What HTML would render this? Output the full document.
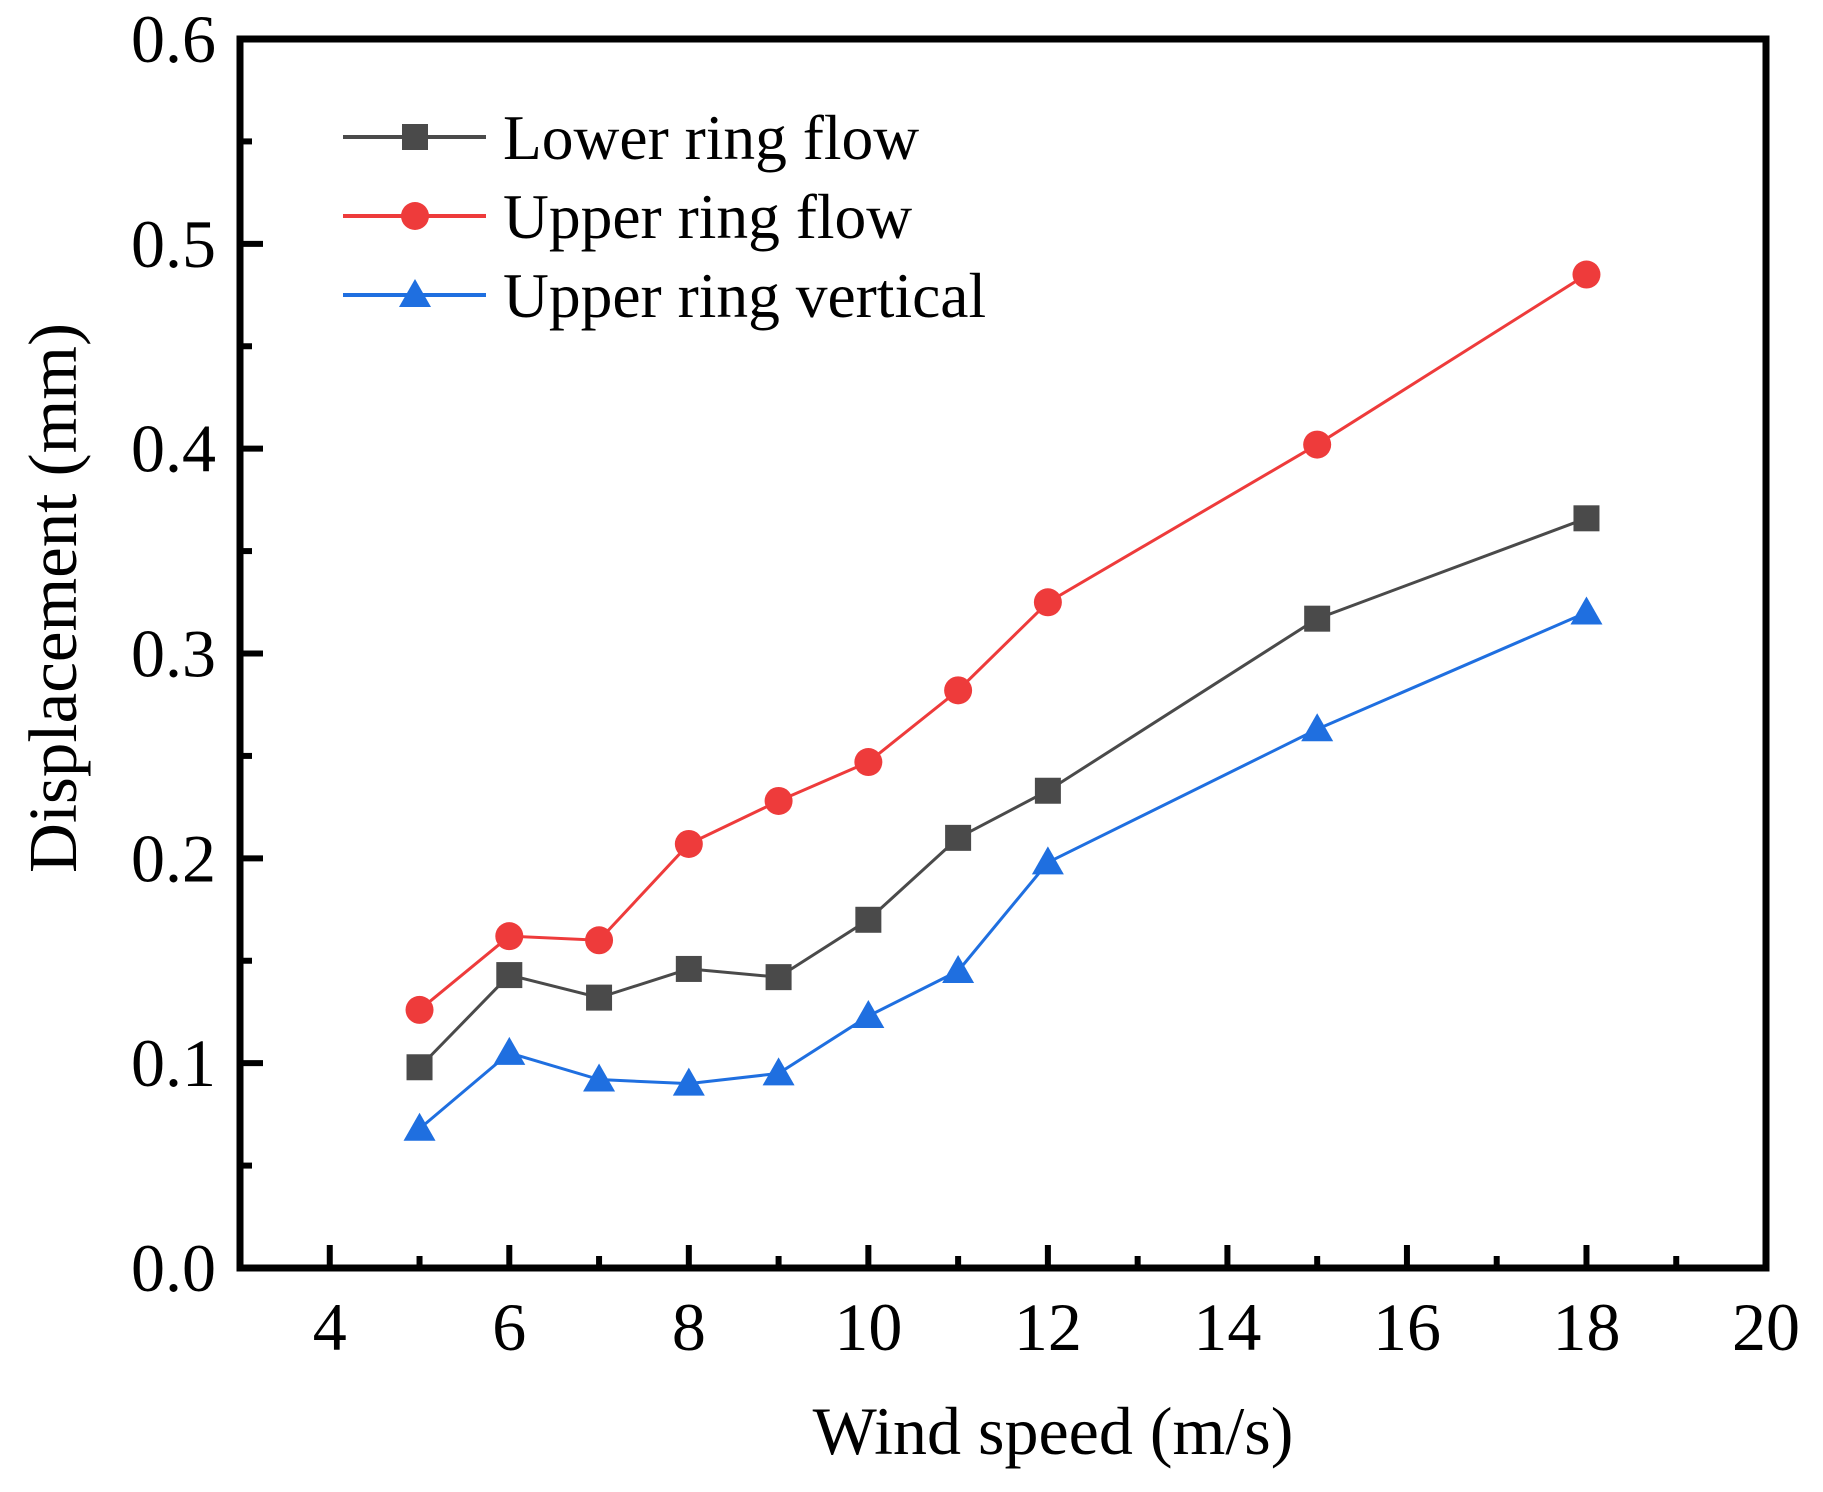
<!DOCTYPE html>
<html><head><meta charset="utf-8"><style>
html,body{margin:0;padding:0;background:#fff;}
svg{display:block;font-family:"Liberation Serif",serif;}
</style></head><body>
<svg id="chart" width="1823" height="1492" viewBox="0 0 1823 1492" xmlns="http://www.w3.org/2000/svg">
<g id="plot"></g>
</svg>
<script>
const windSpeeds = [5, 6, 7, 8, 9, 10, 11, 12, 15, 18];
const lowerRingFlow = [0.098, 0.143, 0.132, 0.146, 0.142, 0.170, 0.210, 0.233, 0.317, 0.366];
const upperRingFlow = [0.126, 0.162, 0.160, 0.207, 0.228, 0.247, 0.282, 0.325, 0.402, 0.485];
const upperRingVertical = [0.068, 0.105, 0.092, 0.090, 0.095, 0.123, 0.145, 0.198, 0.263, 0.320];
const xTicks = [4, 6, 8, 10, 12, 14, 16, 18, 20];
const xMinorTicks = [5, 7, 9, 11, 13, 15, 17, 19];
const yTicks = [0.0, 0.1, 0.2, 0.3, 0.4, 0.5, 0.6];
const yMinorTicks = [0.05, 0.15, 0.25, 0.35, 0.45, 0.55];
const yTickLabels = ["0.0", "0.1", "0.2", "0.3", "0.4", "0.5", "0.6"];

const L = 240, R = 1766, T = 39, B = 1268;
const xMin = 3, xMax = 20, yMin = 0, yMax = 0.6;
const xs = v => L + (v - xMin) / (xMax - xMin) * (R - L);
const ys = v => B - (v - yMin) / (yMax - yMin) * (B - T);
const NS = "http://www.w3.org/2000/svg";
const g = document.getElementById('plot');
function mk(tag, attrs, parent) {
  const e = document.createElementNS(NS, tag);
  for (const k in attrs) e.setAttribute(k, attrs[k]);
  (parent || g).appendChild(e);
  return e;
}

xTicks.forEach(v => {
  const t = mk('line', {x1: xs(v), x2: xs(v), y1: B, y2: B - 23, stroke: '#000', 'stroke-width': 6});
  
  
  const lb = mk('text', {x: xs(v), y: 1350, 'font-size': 68, 'text-anchor': 'middle', fill: '#000'});
  
  
  lb.textContent = v;
});
xMinorTicks.forEach(v => {
  const t = mk('line', {x1: xs(v), x2: xs(v), y1: B, y2: B - 12, stroke: '#000', 'stroke-width': 6});
  
  
});
yTicks.forEach((v, i) => {
  const t = mk('line', {x1: L, x2: L + 23, y1: ys(v), y2: ys(v), stroke: '#000', 'stroke-width': 6});
  
  
  const lb = mk('text', {x: 216, y: ys(v) + 23, 'font-size': 68, 'text-anchor': 'end', fill: '#000'});
  
  
  lb.textContent = yTickLabels[i];
});
yMinorTicks.forEach(v => {
  const t = mk('line', {x1: L, x2: L + 12, y1: ys(v), y2: ys(v), stroke: '#000', 'stroke-width': 6});
  
  
});

const fr = mk('rect', {x: L, y: T, width: R - L, height: B - T, fill: 'none', stroke: '#000', 'stroke-width': 7});



function marker(type, cx, cy, color, name) {
  let m;
  if (type === 'square') m = mk('rect', {x: cx - 13, y: cy - 13, width: 26, height: 26, fill: color});
  else if (type === 'circle') m = mk('circle', {cx: cx, cy: cy, r: 14, fill: color});
  else m = mk('polygon', {points: `${cx},${cy - 16} ${cx + 16},${cy + 12} ${cx - 16},${cy + 12}`, fill: color});
  
  
}

const series = [
  {vals: lowerRingFlow, color: '#4a4a4a', type: 'square', name: 'lower-ring-flow', label: 'Lower ring flow'},
  {vals: upperRingFlow, color: '#ee3b3b', type: 'circle', name: 'upper-ring-flow', label: 'Upper ring flow'},
  {vals: upperRingVertical, color: '#1f6fe0', type: 'triangle', name: 'upper-ring-vertical', label: 'Upper ring vertical'}
];
series.forEach((s, si) => {
  const pts = windSpeeds.map((x, i) => xs(x) + ',' + ys(s.vals[i])).join(' ');
  const pl = mk('polyline', {points: pts, fill: 'none', stroke: s.color, 'stroke-width': 3});
  
  
  windSpeeds.forEach((x, i) => marker(s.type, xs(x), ys(s.vals[i]), s.color, s.name + '-point'));
  const ly = 137 + si * 79;
  const ll = mk('line', {x1: 343, x2: 486, y1: ly, y2: ly, stroke: s.color, 'stroke-width': 4});
  
  
  marker(s.type, 415, ly, s.color, 'legend-marker-' + s.name);
  const lt = mk('text', {x: 503, y: ly + 22, 'font-size': 63.5, fill: '#000'});
  
  
  lt.textContent = s.label;
});

const xt = mk('text', {x: 1053, y: 1454, 'font-size': 68, 'text-anchor': 'middle', fill: '#000'});


xt.textContent = 'Wind speed (m/s)';
const yt = mk('text', {x: 0, y: 0, 'font-size': 69, 'text-anchor': 'middle', fill: '#000', transform: 'translate(76,598) rotate(-90)'});


yt.textContent = 'Displacement (mm)';
</script>
</body></html>
